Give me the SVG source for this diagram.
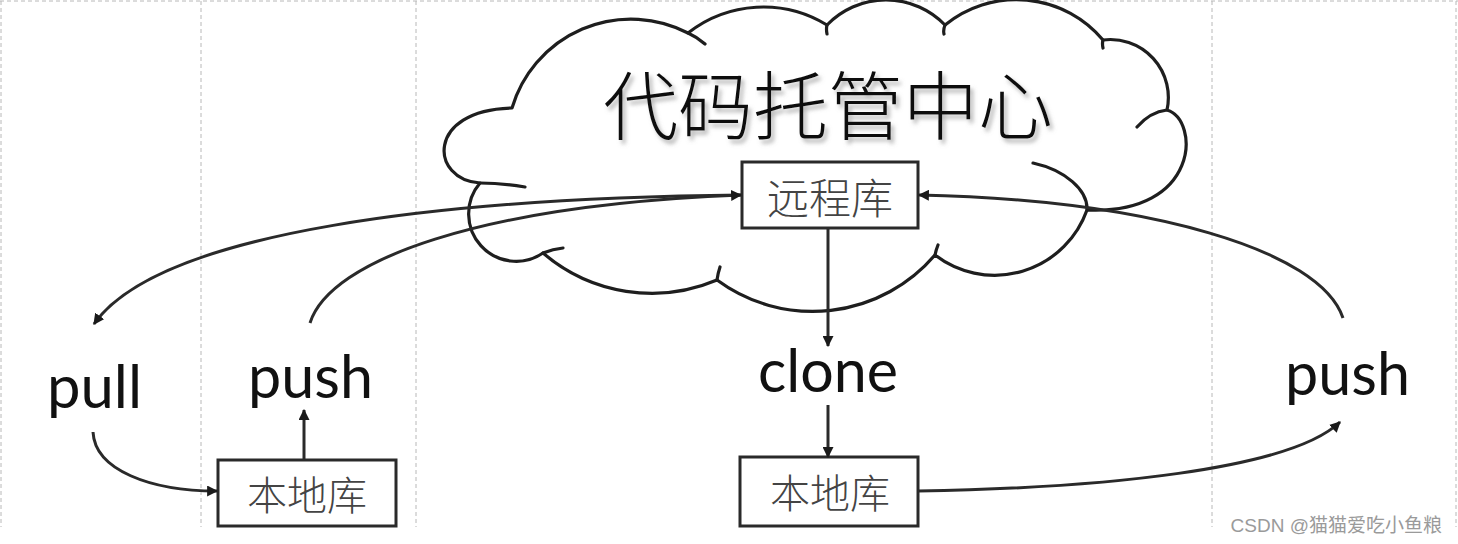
<svg xmlns="http://www.w3.org/2000/svg" width="1458" height="544" viewBox="0 0 1458 544">
<style>
.grid{stroke:#b8b8b8;stroke-width:1;stroke-dasharray:4 3;fill:none}
.cloud{fill:#fff;stroke:#1e1e1e;stroke-width:3.2;stroke-linejoin:round}
.tail{fill:none;stroke:#1e1e1e;stroke-width:3.2;stroke-linecap:round}
.box{fill:#fff;stroke:#2a2a2a;stroke-width:3}
.conn{fill:none;stroke:#2a2a2a;stroke-width:3}
.cjk{font-family:"Noto Sans CJK SC",sans-serif;text-anchor:middle;dominant-baseline:central}
.lbl{font-family:Lato,"Open Sans",sans-serif;font-size:60px;fill:#111}
</style>
<defs>
<marker id="arr" viewBox="0 0 10 10" refX="9" refY="5" markerWidth="11" markerHeight="11" markerUnits="userSpaceOnUse" orient="auto">
<path d="M0,0 L10,5 L0,10 z" fill="#1a1a1a"/>
</marker>
<filter id="sh" x="-10%" y="-20%" width="120%" height="150%">
<feDropShadow dx="3" dy="4" stdDeviation="2" flood-color="#777" flood-opacity="0.55"/>
</filter>
</defs>
<rect width="1458" height="544" fill="#fff"/>
<g id="grid">
<line class="grid" x1="0" y1="1" x2="1458" y2="1"/>
<line class="grid" x1="1" y1="1" x2="1" y2="527"/>
<line class="grid" x1="201" y1="1" x2="201" y2="527"/>
<line class="grid" x1="416" y1="1" x2="416" y2="527"/>
<line class="grid" x1="1212" y1="1" x2="1212" y2="527"/>
<line class="grid" x1="1456" y1="1" x2="1456" y2="527"/>
</g>
<g id="cloud">
<path class="cloud" d="M512,108 A124,124 0 0,1 688,33 A122,122 0 0,1 827,25 A82,82 0 0,1 945,25 A113,113 0 0,1 1103,40 A58,58 0 0,1 1167,110 C1200,120 1200,215 1087,210 A98,98 0 0,1 935,255 A161,161 0 0,1 717,280 A167,167 0 0,1 543,253 A47.5,47.5 0 0,1 480,183 C430,180 425,110 512,108 Z"/>
<path class="tail" d="M688,33 Q697,37 705,44 M827,25 Q826,29 827,34 M945,25 Q943,30 944,34 M1103,40 Q1102,44 1103,48 M1167,110 Q1150,112 1137,127 M1087,210 C1088,190 1065,170 1033,163 M935,255 Q936,250 938,245 M717,280 Q718,273 720,267 M543,253 Q553,249 563,248 M480,183 Q502,183 525,187"/>
<text class="cjk" x="828" y="101" font-size="75" font-weight="300" fill="#111" filter="url(#sh)">代码托管中心</text>
</g>
<g id="remote">
<rect class="box" x="742" y="162" width="176" height="66"/>
<text class="cjk" x="830" y="195" font-size="42" font-weight="300" fill="#444">远程库</text>
</g>
<g id="local-left">
<rect class="box" x="218" y="460" width="178" height="66"/>
<text class="cjk" x="307" y="493" font-size="40" font-weight="300" fill="#444">本地库</text>
</g>
<g id="local-right">
<rect class="box" x="740" y="457" width="178" height="69"/>
<text class="cjk" x="830" y="491" font-size="40" font-weight="300" fill="#444">本地库</text>
</g>
<g id="labels">
<text class="lbl" x="47" y="408" textLength="95" lengthAdjust="spacingAndGlyphs">pull</text>
<text class="lbl" x="248" y="398" textLength="125" lengthAdjust="spacingAndGlyphs">push</text>
<text class="lbl" x="758" y="392" textLength="140" lengthAdjust="spacingAndGlyphs">clone</text>
<text class="lbl" x="1285" y="395" textLength="125" lengthAdjust="spacingAndGlyphs">push</text>
</g>
<g id="connectors">
<path class="conn" d="M828,228 L828,346" marker-end="url(#arr)"/>
<path class="conn" d="M828,405 L828,457" marker-end="url(#arr)"/>
<path class="conn" d="M304,460 L304,410" marker-end="url(#arr)"/>
<path class="conn" d="M93,432 C95,470 150,491 217,491" marker-end="url(#arr)"/>
<path class="conn" d="M742,195 C450,198 160,230 94,324" marker-end="url(#arr)"/>
<path class="conn" d="M310,323 C330,260 480,205 741,195" marker-end="url(#arr)"/>
<path class="conn" d="M1343,318 C1320,250 1150,200 919,195" marker-end="url(#arr)"/>
<path class="conn" d="M918,491 C1100,488 1290,470 1340,422" marker-end="url(#arr)"/>
</g>
<text x="1442" y="525" font-family="Liberation Sans,Noto Sans CJK SC,sans-serif" font-size="19" fill="#9a9a9a" text-anchor="end" dominant-baseline="central">CSDN @猫猫爱吃小鱼粮</text>
</svg>
